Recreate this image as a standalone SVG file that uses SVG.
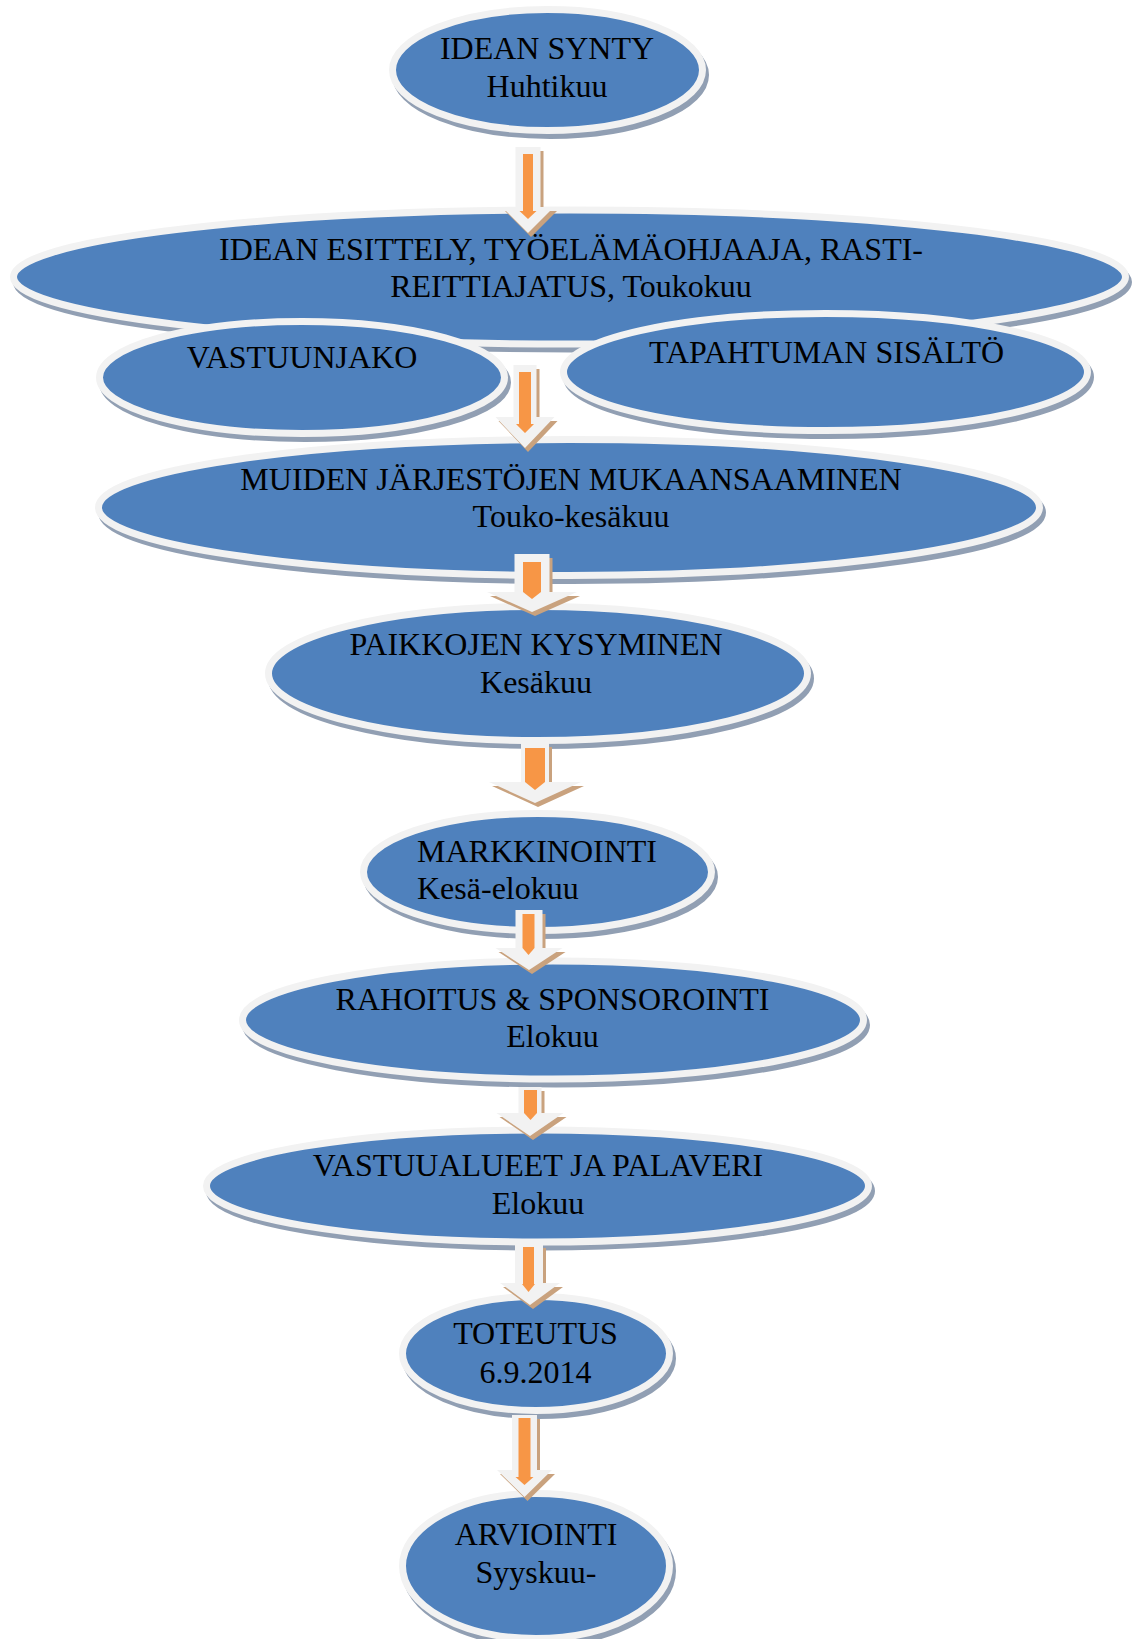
<svg xmlns="http://www.w3.org/2000/svg" width="1142" height="1639" viewBox="0 0 1142 1639">
<style>
.sh{fill:#919FB3;stroke:#919FB3;stroke-width:7}
.el{fill:#4F81BD;stroke:#F2F2F2;stroke-width:7}
.t{font-family:"Liberation Serif","Times New Roman",serif;font-size:32px;fill:#000;text-anchor:middle}
.l{text-anchor:start}
.ash{fill:#C9A27E}
.aw{fill:#F2F2F2}
.ao{fill:#F79646}
</style>
<rect width="1142" height="1639" fill="#FFFFFF"/>
<g id="n1">
<ellipse class="sh" cx="550.5" cy="75" rx="155" ry="60.5"/>
<ellipse class="el" cx="547.5" cy="70" rx="155" ry="60.5"/>
<text class="t" x="547" y="59">IDEAN SYNTY</text>
<text class="t" x="547" y="97">Huhtikuu</text>
</g>
<g id="n2">
<ellipse class="sh" cx="572.5" cy="282" rx="556" ry="67"/>
<ellipse class="el" cx="569.5" cy="277" rx="556" ry="67"/>
<text class="t" x="571" y="260">IDEAN ESITTELY, TYÖELÄMÄOHJAAJA, RASTI-</text>
<text class="t" x="571" y="297">REITTIAJATUS, Toukokuu</text>
</g>
<g id="n3">
<ellipse class="sh" cx="305" cy="382.5" rx="202.5" ry="56"/>
<ellipse class="el" cx="302" cy="377.5" rx="202.5" ry="56"/>
<text class="t" x="302" y="368">VASTUUNJAKO</text>
</g>
<g id="n4">
<ellipse class="sh" cx="828.5" cy="377" rx="262" ry="58.5"/>
<ellipse class="el" cx="825.5" cy="372" rx="262" ry="58.5"/>
<text class="t" x="826.5" y="363">TAPAHTUMAN SISÄLTÖ</text>
</g>
<g id="n5">
<ellipse class="sh" cx="572" cy="512.5" rx="470.5" ry="68"/>
<ellipse class="el" cx="569" cy="507.5" rx="470.5" ry="68"/>
<text class="t" x="571" y="490">MUIDEN JÄRJESTÖJEN MUKAANSAAMINEN</text>
<text class="t" x="571" y="527">Touko-kesäkuu</text>
</g>
<g id="n6">
<ellipse class="sh" cx="541" cy="678.5" rx="269.5" ry="67"/>
<ellipse class="el" cx="538" cy="673.5" rx="269.5" ry="67"/>
<text class="t" x="536" y="655">PAIKKOJEN KYSYMINEN</text>
<text class="t" x="536" y="693">Kesäkuu</text>
</g>
<g id="n7">
<ellipse class="sh" cx="540.5" cy="877" rx="174" ry="58.5"/>
<ellipse class="el" cx="537.5" cy="872" rx="174" ry="58.5"/>
<text class="t l" x="417" y="862">MARKKINOINTI</text>
<text class="t l" x="417" y="899">Kesä-elokuu</text>
</g>
<g id="n8">
<ellipse class="sh" cx="556" cy="1025" rx="310.5" ry="59"/>
<ellipse class="el" cx="553" cy="1020" rx="310.5" ry="59"/>
<text class="t" x="552.5" y="1010">RAHOITUS &amp; SPONSOROINTI</text>
<text class="t" x="552.5" y="1047">Elokuu</text>
</g>
<g id="n9">
<ellipse class="sh" cx="540.5" cy="1191" rx="331" ry="56"/>
<ellipse class="el" cx="537.5" cy="1186" rx="331" ry="56"/>
<text class="t" x="538" y="1176">VASTUUALUEET JA PALAVERI</text>
<text class="t" x="538" y="1214">Elokuu</text>
</g>
<g id="n10">
<ellipse class="sh" cx="539" cy="1358.5" rx="133.5" ry="57"/>
<ellipse class="el" cx="536" cy="1353.5" rx="133.5" ry="57"/>
<text class="t" x="535.5" y="1344">TOTEUTUS</text>
<text class="t" x="535.5" y="1383">6.9.2014</text>
</g>
<g id="n11">
<ellipse class="sh" cx="539" cy="1571" rx="133.5" ry="72.5"/>
<ellipse class="el" cx="536" cy="1566" rx="133.5" ry="72.5"/>
<text class="t" x="536" y="1545">ARVIOINTI</text>
<text class="t" x="536" y="1583">Syyskuu-</text>
</g>
<g id="connectors">
<g id="a1">
<polygon class="ash" transform="translate(3,4)" points="515.5,147 540.5,147 540.5,207 554,207 528,233 502,207 515.5,207"/>
<polygon class="aw" points="515.5,147 540.5,147 540.5,207 554,207 528,233 502,207 515.5,207"/>
<polygon class="ao" points="523,154 533,154 533,211 536.5,211 528,219 519.5,211 523,211"/>
</g>
<g id="a2">
<polygon class="ash" transform="translate(3,4)" points="513.5,365 536.5,365 536.5,417 554.5,417 525,448 495.5,417 513.5,417"/>
<polygon class="aw" points="513.5,365 536.5,365 536.5,417 554.5,417 525,448 495.5,417 513.5,417"/>
<polygon class="ao" points="519,372 531,372 531,424 534,424 525,433 516,424 519,424"/>
</g>
<g id="a3">
<polygon class="ash" transform="translate(3,4)" points="514.5,554 549.5,554 549.5,592 577,592 532,612 487,592 514.5,592"/>
<polygon class="aw" points="514.5,554 549.5,554 549.5,592 577,592 532,612 487,592 514.5,592"/>
<polygon class="ao" points="523,562 541,562 541,592 532,599 523,592"/>
</g>
<g id="a4">
<polygon class="ash" transform="translate(3,4)" points="521,743 549,743 549,782 581,782 535,803 489,782 521,782"/>
<polygon class="aw" points="521,743 549,743 549,782 581,782 535,803 489,782 521,782"/>
<polygon class="ao" points="525,748 545,748 545,782 535,790 525,782"/>
</g>
<g id="a5">
<polygon class="ash" transform="translate(3,4)" points="515.5,910 542.5,910 542.5,948 562.5,948 529,970 495.5,948 515.5,948"/>
<polygon class="aw" points="515.5,910 542.5,910 542.5,948 562.5,948 529,970 495.5,948 515.5,948"/>
<polygon class="ao" points="522.5,914 534.5,914 534.5,948 528.5,955 522.5,948"/>
</g>
<g id="a6">
<polygon class="ash" transform="translate(3,4)" points="518.5,1087 541.5,1087 541.5,1113 563.5,1113 530,1136 496.5,1113 518.5,1113"/>
<polygon class="aw" points="518.5,1087 541.5,1087 541.5,1113 563.5,1113 530,1136 496.5,1113 518.5,1113"/>
<polygon class="ao" points="524,1090 537,1090 537,1113 530.5,1120 524,1113"/>
</g>
<g id="a7">
<polygon class="ash" transform="translate(3,4)" points="515,1244 543,1244 543,1283 560,1283 530,1305 500,1283 515,1283"/>
<polygon class="aw" points="515,1244 543,1244 543,1283 560,1283 530,1305 500,1283 515,1283"/>
<polygon class="ao" points="523,1247 534,1247 534,1284 535,1284 528.5,1292 522,1284 523,1284"/>
</g>
<g id="a8">
<polygon class="ash" transform="translate(3,4)" points="512,1415 537,1415 537,1470 552,1470 524.5,1497 497,1470 512,1470"/>
<polygon class="aw" points="512,1415 537,1415 537,1470 552,1470 524.5,1497 497,1470 512,1470"/>
<polygon class="ao" points="518.5,1418 530.5,1418 530.5,1477 533.5,1477 524.5,1485 515.5,1477 518.5,1477"/>
</g>
</g>
</svg>
